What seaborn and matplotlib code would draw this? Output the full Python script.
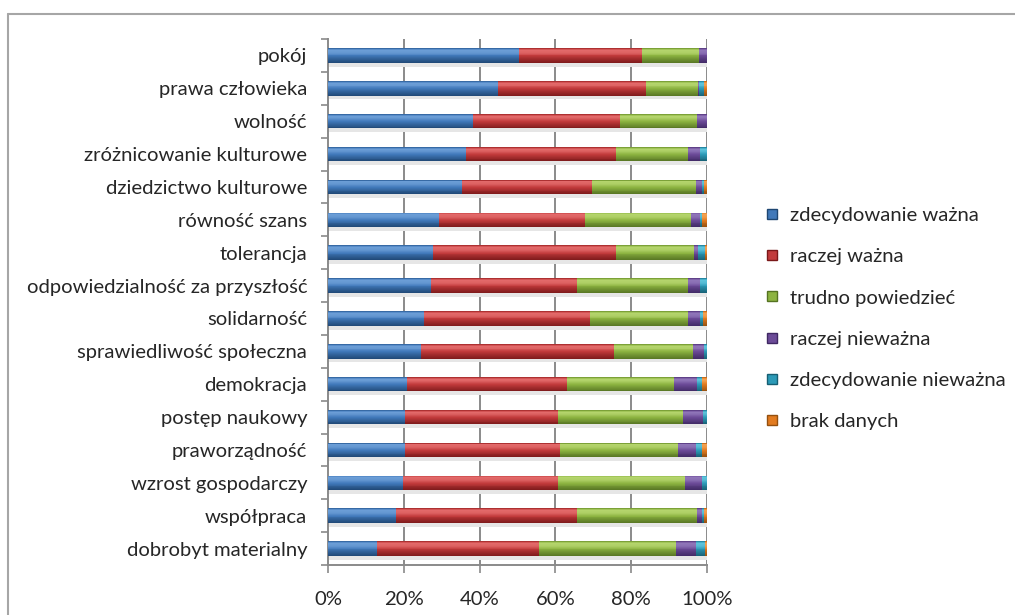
import numpy as np
import pandas as pd
import seaborn as sns
import matplotlib
matplotlib.use("Agg")
import matplotlib.pyplot as plt
from matplotlib.lines import Line2D
from matplotlib.colors import to_rgb
from matplotlib.ticker import FixedLocator, FuncFormatter

# Values (percent of answers) for each value category
categories = [
    "pokój", "prawa człowieka", "wolność", "zróżnicowanie kulturowe",
    "dziedzictwo kulturowe", "równość szans", "tolerancja",
    "odpowiedzialność za przyszłość", "solidarność",
    "sprawiedliwość społeczna", "demokracja", "postęp naukowy",
    "praworządność", "wzrost gospodarczy", "współpraca",
    "dobrobyt materialny",
]
zdecydowanie_wazna = [50.5, 44.8, 38.3, 36.3, 35.3, 29.2, 27.8, 27.2, 25.4, 24.5, 20.9, 20.3, 20.3, 19.7, 17.9, 12.8]
raczej_wazna = [32.4, 39.1, 38.7, 39.6, 34.3, 38.6, 48.2, 38.6, 43.6, 51.0, 42.1, 40.3, 40.9, 41.1, 47.7, 43.0]
trudno_powiedziec = [15.1, 13.6, 20.3, 19.0, 27.5, 28.0, 20.7, 29.1, 25.9, 20.9, 28.4, 33.0, 31.1, 33.4, 31.8, 36.0]
raczej_niewazna = [2.0, 0.5, 2.7, 3.3, 1.7, 2.4, 1.0, 3.3, 3.2, 2.8, 5.9, 5.4, 4.8, 4.4, 1.4, 5.3]
zdecydowanie_niewazna = [0.0, 1.3, 0.0, 1.8, 0.3, 0.6, 1.8, 1.8, 0.9, 0.8, 1.3, 1.0, 1.7, 1.4, 0.4, 2.4]
brak_danych = [0.0, 0.7, 0.0, 0.0, 0.9, 1.2, 0.5, 0.0, 1.0, 0.0, 1.4, 0.0, 1.2, 0.0, 0.8, 0.5]

series_names = ["zdecydowanie ważna", "raczej ważna", "trudno powiedzieć",
                "raczej nieważna", "zdecydowanie nieważna", "brak danych"]
series_values = [zdecydowanie_wazna, raczej_wazna, trudno_powiedziec,
                 raczej_niewazna, zdecydowanie_niewazna, brak_danych]

# base, light, dark tone for each series (gives the bars a rounded look)
base_colors = ["#4179ba", "#c23b3c", "#8db441", "#6c4b98", "#2c9ab7", "#e27b20"]
light_colors = ["#7aaae0", "#ee7a7a", "#c2e07c", "#9c84c4", "#6fd0e6", "#f8ae62"]
dark_colors = ["#1e4672", "#7a1819", "#557322", "#3f2863", "#175f73", "#94500f"]

sns.set_theme(style="white")
plt.rcParams["font.family"] = ["Lato", "DejaVu Sans"]
FS = 14.6
TXT = "#262626"

fig = plt.figure(figsize=(10.15, 6.15), dpi=100)
ax = fig.add_axes([328 / 1015, 1 - 565 / 615, (707 - 328) / 1015, (565 - 39) / 615])

vals = np.array(series_values)           # shape (6, n)
cum = np.cumsum(vals, axis=0)
starts = cum - vals
n = len(categories)
bar_h = 0.44
ypos = np.arange(n)

df = pd.DataFrame({"kategoria": categories})
for i in range(len(series_names)):
    df[f"cum{i}"] = cum[i]

# soft shadow below each bar
ax.barh(ypos + bar_h / 2 + 0.06, cum[-1], height=0.12, color="#e6e6e6",
        linewidth=0, zorder=1.5)

# stacked bars: draw cumulative totals from the largest down
for i in reversed(range(len(series_names))):
    sns.barplot(data=df, x=f"cum{i}", y="kategoria", color=base_colors[i],
                saturation=1, width=bar_h, orient="h", ax=ax,
                edgecolor="none", linewidth=0, zorder=2)

# vertical shading profile: >0 mixes toward the light tone, <0 toward the dark tone
prof_pos = [0.0, 0.07, 0.14, 0.32, 0.5, 0.68, 0.86, 1.0]
prof_val = [-0.7, 0.2, 0.75, 0.6, 0.05, -0.35, -0.7, -0.95]
K = 16
edges = np.linspace(0, 1, K + 1)
mids = (edges[:-1] + edges[1:]) / 2
mix = np.interp(mids, prof_pos, prof_val)
top = ypos - bar_h / 2
for i in range(len(series_names)):
    b = np.array(to_rgb(base_colors[i]))
    lt = np.array(to_rgb(light_colors[i]))
    dk = np.array(to_rgb(dark_colors[i]))
    for k in range(K):
        m = mix[k]
        c = b + (lt - b) * m if m >= 0 else b + (dk - b) * (-m)
        ax.barh(top + bar_h * mids[k], vals[i], left=starts[i],
                height=bar_h / K * 1.05, color=np.clip(c, 0, 1),
                linewidth=0, zorder=3)

ax.set_xlim(0, 100)
ax.set_ylim(n - 0.5, -0.5)
ax.set_xlabel("")
ax.set_ylabel("")

ax.xaxis.set_major_locator(FixedLocator([0, 20, 40, 60, 80, 100]))
ax.xaxis.set_major_formatter(FuncFormatter(lambda v, p: f"{int(v)}%"))
ax.set_yticks(ypos)
ax.set_yticklabels(categories)
ax.yaxis.set_minor_locator(FixedLocator(np.arange(-0.5, n, 1.0)))

grid_c = "#8a8a8a"
ax.grid(False)
for xv in [20, 40, 60, 80, 100]:
    ax.axvline(xv, color=grid_c, lw=1.4, zorder=1)

for s in ["top", "right"]:
    ax.spines[s].set_visible(False)
for s in ["left", "bottom"]:
    ax.spines[s].set_color(grid_c)
    ax.spines[s].set_linewidth(1.4)

ax.tick_params(axis="y", which="major", length=0, pad=15, labelsize=FS,
               labelcolor=TXT)
ax.tick_params(axis="y", which="minor", length=5, width=1.2, color=grid_c, left=True)
ax.tick_params(axis="x", which="major", length=6, width=1.2, color=grid_c,
               bottom=True, pad=12.5, labelsize=FS, labelcolor=TXT)

# legend
handles = [Line2D([0], [0], marker="s", linestyle="none", markersize=7,
                  markerfacecolor=base_colors[i], markeredgecolor=dark_colors[i])
           for i in range(len(series_names))]
fig.legend(handles, series_names, loc="upper left",
           bbox_to_anchor=(756 / 1015, 1 - 199 / 615), frameon=False,
           fontsize=FS, labelspacing=1.18, handlelength=0.8,
           handletextpad=0.5, borderaxespad=0, labelcolor=TXT)

# outer chart frame (left and top edges)
fig.add_artist(Line2D([8 / 1015, 8 / 1015], [0, 1 - 14 / 615],
                      transform=fig.transFigure, color="#a6a6a6", lw=1.5))
fig.add_artist(Line2D([8 / 1015, 1.0], [1 - 14 / 615, 1 - 14 / 615],
                      transform=fig.transFigure, color="#a6a6a6", lw=1.5))

fig.savefig("out.png", dpi=100)
